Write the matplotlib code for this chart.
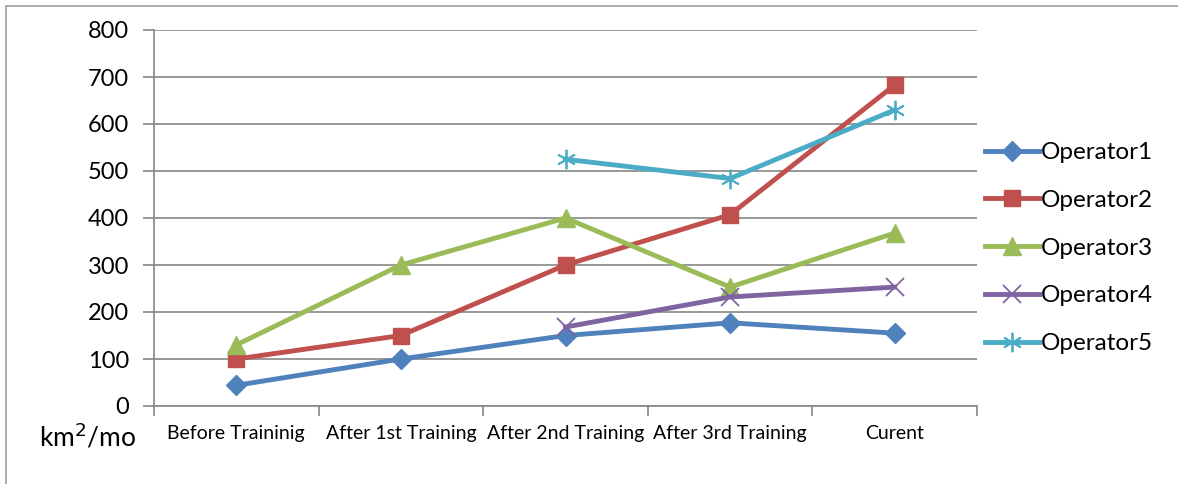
import numpy as np
import matplotlib
matplotlib.use('Agg')
import matplotlib.pyplot as plt
from matplotlib.patches import Rectangle

matplotlib.rcParams['font.family'] = ['Lato', 'DejaVu Sans']

stages = ['Before Traininig', 'After 1st Training', 'After 2nd Training',
          'After 3rd Training', 'Curent']
op1 = [44, 100, 150, 177, 155]
op2 = [100, 150, 300, 407, 683]
op3 = [130, 300, 400, 253, 368]
op4 = [np.nan, np.nan, 168, 232, 253]
op5 = [np.nan, np.nan, 525, 484, 630]
names = ['Operator1', 'Operator2', 'Operator3', 'Operator4', 'Operator5']

colors = ['#4F81BD', '#C0504D', '#9BBB59', '#8064A2', '#4BACC6']
markers = ['D', 's', '^', 'x', (6, 2, 0)]
msizes = [10, 12, 13, 13, 14]

fig = plt.figure(figsize=(11.78, 4.84), dpi=100)
ax = fig.add_axes([154 / 1178, 1 - 406 / 484, 823 / 1178, 376 / 484])

x = np.arange(len(stages))
for vals, name, c, m, ms in zip([op1, op2, op3, op4, op5], names, colors, markers, msizes):
    thin = m in ('x',) or isinstance(m, tuple)
    ax.plot(x, vals, color=c, lw=3.5, marker=m, ms=ms, mew=1.3 if thin else 1,
            mec=c, label=name, zorder=3)

ax.set_xlim(-0.5, 4.5)
ax.set_ylim(0, 800)
ax.set_yticks(range(0, 801, 100))
ax.tick_params(axis='y', labelsize=17, length=8, color='#868686', width=1.2, pad=10)
ax.set_xticks(x)
ax.set_xticklabels(stages, fontsize=14)
ax.set_xticks(np.arange(-0.5, 5, 1), minor=True)
ax.tick_params(axis='x', which='major', length=0, pad=14)
ax.tick_params(axis='x', which='minor', length=7, color='#868686', width=1.2)
ax.grid(axis='y', color='#868686', lw=1.2)
ax.set_axisbelow(True)
for s in ['top', 'right']:
    ax.spines[s].set_visible(False)
for s in ['left', 'bottom']:
    ax.spines[s].set_color('#868686')
    ax.spines[s].set_linewidth(1.2)

fig.text(88 / 1178, 1 - 437 / 484, 'km$^2$/mo', fontsize=19, ha='center', va='center')

ax.legend(loc='center left', bbox_to_anchor=(0.995, 0.42), frameon=False, fontsize=17.5,
          handlelength=2.2, labelspacing=1.1, handletextpad=0.1, borderaxespad=0.1)

fig.patches.append(Rectangle((6 / 1178, -0.1), 1.2, 1 - 6 / 484 + 0.1,
                             transform=fig.transFigure, fill=False,
                             ec='#A0A0A0', lw=1.2))

fig.savefig('out.png', dpi=100)
